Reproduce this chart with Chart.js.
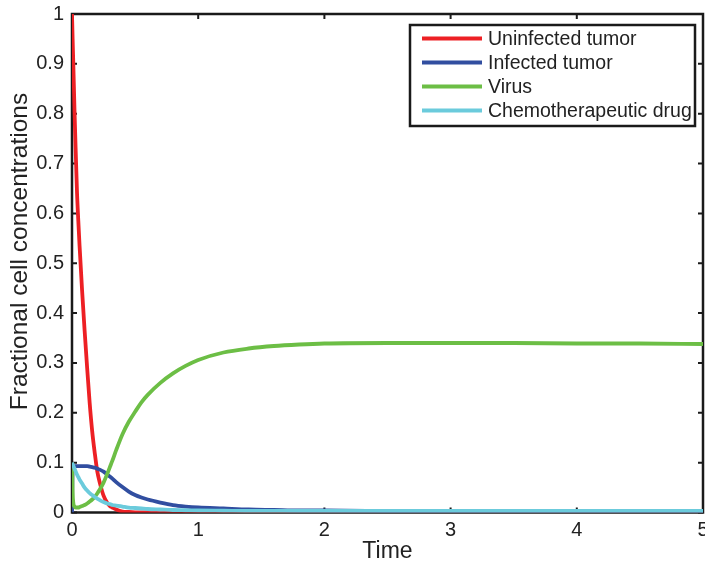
<!DOCTYPE html>
<html>
<head>
<meta charset="utf-8">
<script src="https://cdn.jsdelivr.net/npm/chart.js@4.4.1/dist/chart.umd.min.js"></script>
<style>
html,body{margin:0;padding:0;background:#fff;}
canvas{display:block;}
</style>
</head>
<body>
<canvas id="c" width="705" height="567"></canvas>
<script>
const seriesNames = ["Uninfected tumor", "Infected tumor", "Virus", "Chemotherapeutic drug"];
const seriesColors = ["#ED2024", "#314EA0", "#6CBE45", "#6BCBDC"];
const times = [0,0.005,0.01,0.02,0.03,0.04,0.05,0.06,0.08,0.1,0.12,0.14,0.16,0.18,0.2,0.22,0.25,0.28,0.3,0.32,0.35,0.4,0.45,0.5,0.55,0.6,0.7,0.8,0.9,1,1.2,1.4,1.6,1.8,2,2.5,3,3.5,4,4.5,5];
const uninfected = [1,0.95,0.903,0.805,0.72,0.64,0.585,0.535,0.445,0.365,0.29,0.22,0.163,0.12,0.083,0.06,0.034,0.019,0.013,0.01,0.006,0.002,0.001,0.0003,0,0,0,0,0,0,0,0,0,0,0,0,0,0,0,0,0];
const infected = [0,0.085,0.092,0.093,0.093,0.093,0.093,0.093,0.093,0.093,0.093,0.092,0.091,0.09,0.088,0.086,0.082,0.076,0.072,0.068,0.061,0.051,0.042,0.035,0.03,0.026,0.02,0.015,0.012,0.01,0.008,0.006,0.005,0.004,0.004,0.003,0.002,0.002,0.001,0.001,0.001];
const virus = [0.1,0.04,0.02,0.012,0.01,0.01,0.01,0.011,0.013,0.015,0.018,0.022,0.026,0.031,0.038,0.046,0.06,0.078,0.091,0.104,0.125,0.157,0.182,0.202,0.221,0.236,0.26,0.279,0.294,0.306,0.321,0.329,0.334,0.337,0.339,0.34,0.34,0.34,0.339,0.339,0.338];
const drug = [0.1,0.097,0.094,0.088,0.082,0.076,0.071,0.066,0.058,0.05,0.044,0.039,0.035,0.031,0.028,0.025,0.021,0.018,0.017,0.015,0.014,0.012,0.01,0.009,0.008,0.007,0.006,0.005,0.0045,0.004,0.0035,0.003,0.003,0.003,0.003,0.003,0.003,0.003,0.003,0.003,0.003];
const xTicks = [0,1,2,3,4,5];
const yTicks = [0,0.1,0.2,0.3,0.4,0.5,0.6,0.7,0.8,0.9,1];
const xTitle = "Time";
const yTitle = "Fractional cell concentrations";

const allSeries = [uninfected, infected, virus, drug];
const FONT = "'Liberation Sans', Arial, Helvetica, sans-serif";

const datasets = allSeries.map((vals, k) => ({
  label: seriesNames[k],
  data: times.map((t, i) => ({x: t, y: vals[i]})),
  borderColor: seriesColors[k],
  backgroundColor: seriesColors[k],
  borderWidth: 3.8,
  pointRadius: 0,
  fill: false,
  cubicInterpolationMode: 'monotone',
  order: 4 - k
}));

const framePlugin = {
  id: 'frame',
  beforeDatasetsDraw(chart) {
    const {ctx, chartArea: a, scales: {x, y}} = chart;
    ctx.save();
    ctx.strokeStyle = '#1a1a1a';
    ctx.lineWidth = 2;
    ctx.lineCap = 'butt';
    const tl = 5;
    ctx.beginPath();
    xTicks.forEach(v => {
      const px = x.getPixelForValue(v);
      ctx.moveTo(px, a.bottom); ctx.lineTo(px, a.bottom - tl);
      ctx.moveTo(px, a.top); ctx.lineTo(px, a.top + tl);
    });
    yTicks.forEach(v => {
      const py = y.getPixelForValue(v);
      ctx.moveTo(a.left, py); ctx.lineTo(a.left + tl, py);
      ctx.moveTo(a.right, py); ctx.lineTo(a.right - tl, py);
    });
    ctx.stroke();
    ctx.lineWidth = 2.5;
    ctx.strokeRect(a.left, a.top, a.right - a.left, a.bottom - a.top);
    ctx.restore();
  },
  afterDraw(chart) {
    const {ctx} = chart;
    ctx.save();
    // y-axis title
    ctx.translate(20, 251.5);
    ctx.rotate(-Math.PI / 2);
    ctx.font = "24.5px " + FONT;
    ctx.fillStyle = '#222';
    ctx.textAlign = 'center';
    ctx.textBaseline = 'middle';
    ctx.fillText(yTitle, 0, 0);
    ctx.restore();

    ctx.save();
    const bx = 410, by = 25, bw = 285, bh = 101;
    ctx.fillStyle = '#fff';
    ctx.fillRect(bx, by, bw, bh);
    ctx.strokeStyle = '#1a1a1a';
    ctx.lineWidth = 2.5;
    ctx.strokeRect(bx, by, bw, bh);
    ctx.font = "19.5px " + FONT;
    ctx.textBaseline = 'middle';
    ctx.textAlign = 'left';
    chart.data.datasets.forEach((ds, i) => {
      const ry = 38.5 + i * 24;
      ctx.strokeStyle = ds.borderColor;
      ctx.lineWidth = 3.8;
      ctx.beginPath();
      ctx.moveTo(422, ry); ctx.lineTo(482, ry);
      ctx.stroke();
      ctx.fillStyle = '#222';
      ctx.fillText(ds.label, 488, ry + 1);
    });
    ctx.restore();
  }
};

new Chart(document.getElementById('c'), {
  type: 'line',
  data: {datasets},
  options: {
    responsive: false,
    animation: false,
    devicePixelRatio: 1,
    layout: {padding: {top: 14, right: 2, left: 0, bottom: 0}},
    plugins: {legend: {display: false}, tooltip: {enabled: false}},
    scales: {
      x: {
        type: 'linear', min: 0, max: 5,
        afterBuildTicks(s) { s.ticks = xTicks.map(v => ({value: v})); },
        afterFit(s) { s.height = 54.5; s.paddingRight = 0; s.paddingLeft = 0; },
        grid: {display: false, drawTicks: false},
        border: {display: false},
        ticks: {color: '#222', padding: 6, maxRotation: 0, autoSkip: false, font: {family: FONT, size: 20},
          callback: v => String(Math.round(v * 10) / 10)},
        title: {display: true, text: xTitle, color: '#222', padding: {top: 0, bottom: 2}, font: {family: FONT, size: 23}}
      },
      y: {
        type: 'linear', min: 0, max: 1,
        afterBuildTicks(s) { s.ticks = yTicks.map(v => ({value: v})); },
        afterFit(s) { s.width = 72; s.paddingTop = 0; s.paddingBottom = 0; },
        grid: {display: false, drawTicks: false},
        border: {display: false},
        ticks: {color: '#222', padding: 8, autoSkip: false, font: {family: FONT, size: 20},
          callback: v => String(Math.round(v * 10) / 10)},
        title: {display: false, text: yTitle}
      }
    }
  },
  plugins: [framePlugin]
});
</script>
</body>
</html>
